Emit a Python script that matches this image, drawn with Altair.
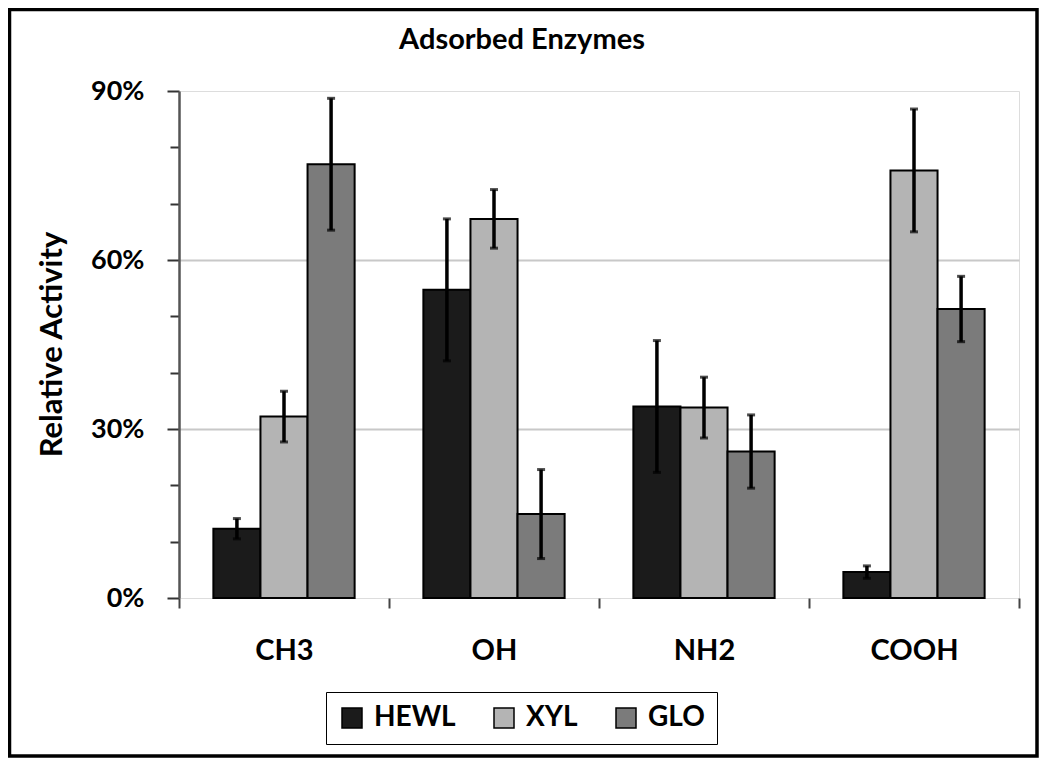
import altair as alt
import pandas as pd

groups = ["CH3", "OH", "NH2", "COOH"]
enzymes = ["HEWL", "XYL", "GLO"]
hewl = [12.3, 54.7, 34.0, 4.6]
hewl_err = [1.8, 12.6, 11.7, 1.1]
xyl = [32.2, 67.3, 33.8, 75.9]
xyl_err = [4.5, 5.2, 5.4, 10.9]
glo = [77.0, 14.9, 26.0, 51.3]
glo_err = [11.7, 7.9, 6.5, 5.8]
colors = ["#1b1b1b", "#b4b4b4", "#7b7b7b"]
y_ticks = [0, 10, 20, 30, 40, 50, 60, 70, 80, 90]

rows = []
for name, vals, errs in [("HEWL", hewl, hewl_err), ("XYL", xyl, xyl_err), ("GLO", glo, glo_err)]:
    for g, v, e in zip(groups, vals, errs):
        rows.append({"group": g, "enzyme": name, "value": v, "lo": v - e, "hi": v + e})
df = pd.DataFrame(rows)

FONT = "Lato"

x_enc = alt.X(
    "group:N", sort=groups, title=None,
    scale=alt.Scale(paddingInner=0, paddingOuter=0),
    axis=alt.Axis(
        tickBand="extent", ticks=True, tickSize=10, tickColor="#444", tickWidth=2,
        labelFont=FONT, labelFontSize=29, labelFontWeight="bold", labelColor="black",
        labelPadding=28, labelAngle=0, domain=False, grid=False,
    ),
)
xoff = alt.XOffset("enzyme:N", sort=enzymes, scale=alt.Scale(paddingOuter=0.73, paddingInner=0))
y_scale = alt.Scale(domain=[0, 90], nice=False)

y_axis = alt.Axis(
    values=y_ticks,
    labelExpr="datum.value % 30 === 0 ? datum.value + '%' : ''",
    labelFont=FONT, labelFontSize=27, labelFontWeight="bold", labelColor="black",
    labelPadding=23,
    tickSize=alt.ConditionalAxisNumber(condition={"test": "datum.value % 30 === 0", "value": 12}, value=9),
    tickColor="#333", tickWidth=2,
    domainColor="#555", domainWidth=2.5,
    grid=True,
    gridColor="#c8c8c8", gridWidth=2,
    gridOpacity=alt.ConditionalAxisNumber(condition={"test": "datum.value === 30 || datum.value === 60", "value": 1}, value=0),
    title="Relative Activity",
    titleFont=FONT, titleFontSize=31, titleFontWeight="bold", titleColor="black",
    titleX=-127, titleY=253, titleAngle=-90, titleAlign="center", titleBaseline="middle",
)

bars = alt.Chart(df).mark_bar(stroke="black", strokeWidth=2).encode(
    x=x_enc,
    xOffset=xoff,
    y=alt.Y("value:Q", scale=y_scale, axis=y_axis),
    color=alt.Color(
        "enzyme:N", sort=enzymes,
        scale=alt.Scale(domain=enzymes, range=colors),
        legend=alt.Legend(
            title=None, orient="none", legendX=147, legendY=601, direction="horizontal",
            symbolType="square", symbolSize=400, symbolStrokeColor="black", symbolStrokeWidth=1.5,
            labelFont=FONT, labelFontSize=28, labelFontWeight="bold", labelColor="black",
            labelOffset=8, columnPadding=34, padding=12,
            strokeColor="black", fillColor="white",
        ),
    ),
)

err = alt.Chart(df).mark_rule(color="black", strokeWidth=3.5).encode(
    x=alt.X("group:N", sort=groups),
    xOffset=xoff,
    y=alt.Y("lo:Q", scale=y_scale),
    y2="hi:Q",
)
cap_lo = alt.Chart(df).mark_tick(color="black", thickness=3, size=8).encode(
    x=alt.X("group:N", sort=groups),
    xOffset=xoff,
    y=alt.Y("lo:Q", scale=y_scale),
)
cap_hi = alt.Chart(df).mark_tick(color="black", thickness=3, size=8).encode(
    x=alt.X("group:N", sort=groups),
    xOffset=xoff,
    y=alt.Y("hi:Q", scale=y_scale),
)

frame = alt.Chart(pd.DataFrame({"f": [0]})).mark_rect(
    fill=None, stroke="black", strokeWidth=3.5, clip=False
).encode(
    x=alt.value(-169.5), x2=alt.value(858), y=alt.value(-81.5), y2=alt.value(665)
)

chart = alt.layer(bars, err, cap_lo, cap_hi, frame).properties(
    width=840, height=507,
    title=alt.TitleParams(
        "Adsorbed Enzymes", font=FONT, fontSize=29, fontWeight="bold", color="black",
        anchor="middle", dx=-77, offset=-47,
    ),
    autosize=alt.AutoSizeParams(type="none"),
    padding={"left": 171, "top": 83, "right": 20, "bottom": 160},
).configure_view(
    stroke="#333", strokeWidth=2.5
).configure_legend(
    strokeWidth=2.5
).configure(background="white")

chart.save("out.html", embed_options={"renderer": "svg", "actions": False})
